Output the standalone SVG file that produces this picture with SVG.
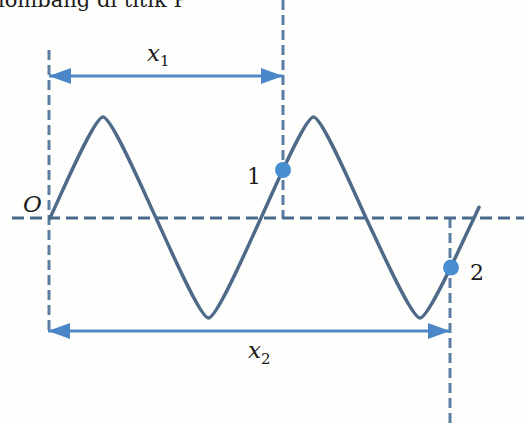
<svg xmlns="http://www.w3.org/2000/svg" width="524" height="425" viewBox="0 0 524 425">
  <defs>
    <style>
      .t { font-family: 'DejaVu Serif', 'Liberation Serif', serif; fill: #1a1a1a; }
      .it { font-style: italic; }
      .vdash { stroke: #5a7ea2; stroke-width: 3; stroke-dasharray: 10 5; fill: none; }
      .axis { stroke: #47698c; stroke-width: 3; stroke-dasharray: 12 6; fill: none; }
      .wave { stroke: #4d6a88; stroke-width: 3.5; fill: none; stroke-linejoin: round; stroke-linecap: round; }
      .dim { stroke: #4f87c7; stroke-width: 3; fill: none; }
      .dot { fill: #4a8ed2; }
    </style>
    <marker id="ah" viewBox="0 0 22 16" refX="22" refY="8" markerWidth="22" markerHeight="16" markerUnits="userSpaceOnUse" orient="auto-start-reverse">
      <path d="M0,0 L22,8 L0,16 Z" fill="#4a86c8"/>
    </marker>
  </defs>
  <rect width="524" height="425" fill="#fefefc"/>

  <text class="t" x="-2" y="7" font-size="21">lombang di titik P</text>

  <g id="guides">
    <line class="vdash" x1="49" y1="50" x2="49" y2="334"/>
    <line class="vdash" x1="283" y1="0" x2="283" y2="218"/>
    <line class="vdash" x1="450" y1="218" x2="450" y2="425"/>
    <line class="axis" x1="12" y1="218" x2="524" y2="218"/>
  </g>

  <g id="wave">
    <path class="wave" d="M50,218 C63.25,189.6 94.41,117 103,117 C111.59,117 142.75,189.6 156,218 C169.13,246.1 200,318 208.5,318 C217,318 247.87,246.1 261,218 C274.13,189.6 305,117 313.5,117 C322,117 352.87,189.6 366,218 C379.5,246.1 411.25,318 420,318 C428.75,318 460.5,246.1 474,218 L479,207.3"/>
  </g>

  <g id="connectors">
    <line class="dim" x1="49" y1="76" x2="283" y2="76" marker-start="url(#ah)" marker-end="url(#ah)"/>
    <line class="dim" x1="48" y1="331" x2="450" y2="331" marker-start="url(#ah)" marker-end="url(#ah)"/>
  </g>

  <g id="point1">
    <circle class="dot" cx="283" cy="170" r="8"/>
    <text class="t" x="247" y="184" font-size="22">1</text>
  </g>
  <g id="point2">
    <circle class="dot" cx="451" cy="267.5" r="8"/>
    <text class="t" x="470" y="280" font-size="22">2</text>
  </g>

  <g id="origin">
    <text class="t it" x="23" y="212" font-size="23">O</text>
  </g>

  <g id="label-x1">
    <text class="t it" x="147" y="61" font-size="23">x<tspan font-style="normal" font-size="15" dy="5">1</tspan></text>
  </g>
  <g id="label-x2">
    <text class="t it" x="248" y="358" font-size="23">x<tspan font-style="normal" font-size="15" dy="6">2</tspan></text>
  </g>
</svg>
